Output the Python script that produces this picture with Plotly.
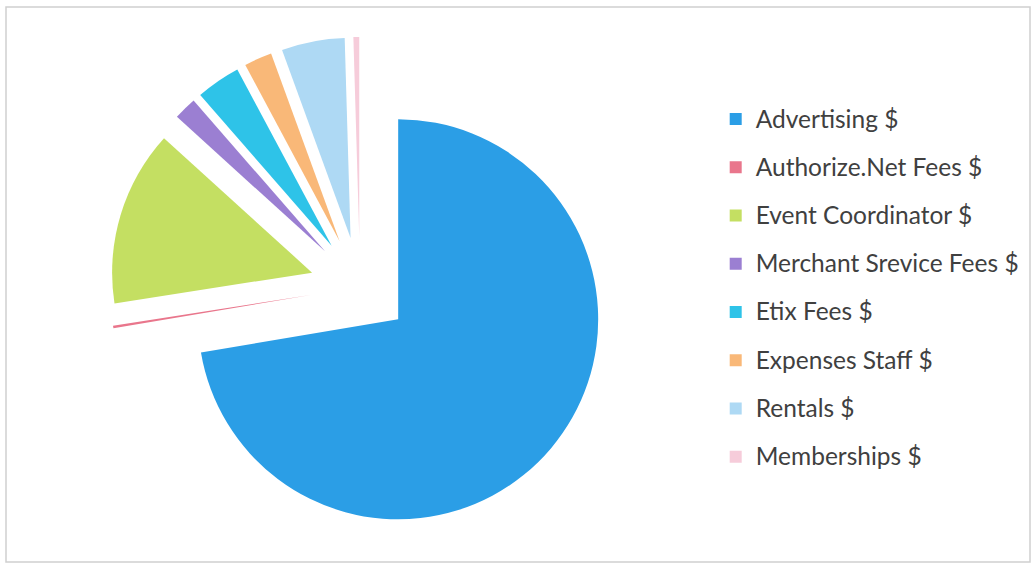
import plotly.graph_objects as go

categories = [
    "Advertising $",
    "Authorize.Net Fees $",
    "Event Coordinator $",
    "Merchant Srevice Fees $",
    "Etix Fees $",
    "Expenses Staff $",
    "Rentals $",
    "Memberships $",
]
values = [72.4, 0.2, 14.2, 1.86, 3.6, 2.25, 5.1, 0.47]
colors = ["#2B9EE6", "#E9768C", "#C4DF62", "#9B7FD2",
          "#2EC3E8", "#F9B878", "#AED9F4", "#F6CCDA"]

W, H = 1035, 565
cx, cy, half = 360, 287, 250

labels = ['<span style="font-size:24.5px;baseline-shift:5px">' + c + '</span>' for c in categories]

fig = go.Figure(go.Pie(
    labels=labels,
    values=values,
    marker=dict(colors=colors, line=dict(width=0)),
    sort=False,
    direction="clockwise",
    rotation=0,
    pull=[0.25] * len(values),
    textinfo="none",
    hovertext=categories,
    hoverinfo="text+value+percent",
    domain=dict(x=[(cx - half) / W, (cx + half) / W],
                y=[1 - (cy + half) / H, 1 - (cy - half) / H]),
))

fig.update_layout(
    width=W, height=H,
    margin=dict(l=0, r=0, t=0, b=0),
    paper_bgcolor="white",
    font=dict(family="Lato", color="#404040"),
    showlegend=True,
    legend=dict(
        x=0.6915, xanchor="left",
        y=0.841, yanchor="top",
        font=dict(size=34.8, family="Lato", color="#404040"),
        bgcolor="rgba(0,0,0,0)",
    ),
    shapes=[dict(type="rect", xref="paper", yref="paper",
                 x0=6 / W, x1=1030 / W, y0=1 - 562 / H, y1=1 - 7 / H,
                 line=dict(color="#D0D0D0", width=1.5), layer="below")],
)

fig.write_html("out.html",
               config={"displayModeBar": False},
               post_script="document.body.style.margin='0';document.body.style.overflow='hidden';")
